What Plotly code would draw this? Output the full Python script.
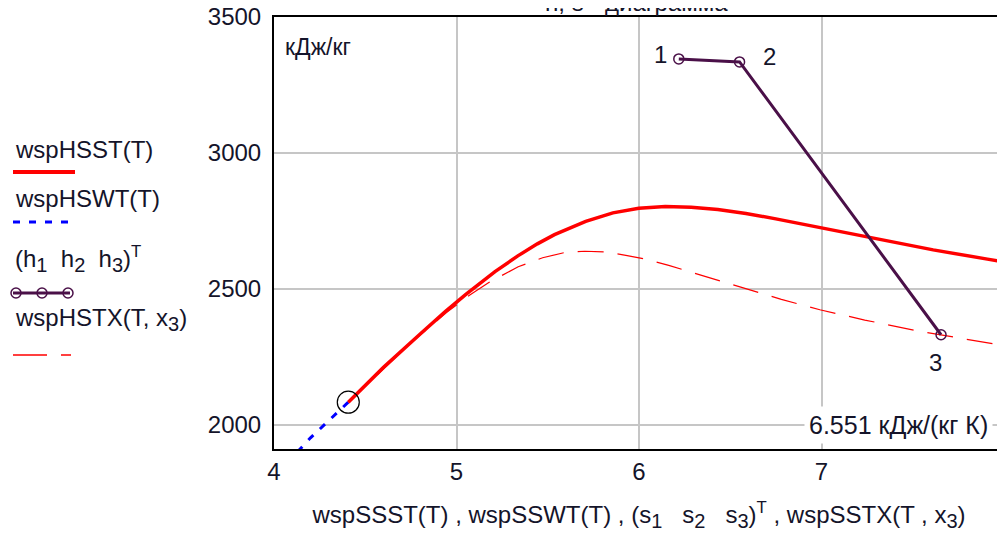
import plotly.graph_objects as go

# ---------------- data ----------------
# saturated steam line wspHSST(T): entropy s [kJ/(kg K)], enthalpy h [kJ/kg]
s_steam = [4.407, 4.60, 4.798, 4.94, 5.053, 5.211, 5.336, 5.443, 5.537, 5.708, 5.857,
           5.999, 6.144, 6.286, 6.432, 6.586, 6.750, 6.930, 7.130, 7.355, 7.612, 7.909, 8.076]
h_steam = [2084, 2212, 2333, 2418, 2481, 2564, 2622, 2666, 2700, 2749, 2780,
           2797, 2803, 2801, 2792, 2778, 2758, 2734, 2706, 2676, 2644, 2610, 2592]

# saturated water line wspHSWT(T)
s_water = [4.407, 4.30, 4.20, 4.114, 3.915]
h_water = [2084, 2016, 1953, 1891, 1762]

# constant dryness line wspHSTX(T, x3)
s_x3 = [4.407, 4.733, 4.945, 5.075, 5.177, 5.338, 5.472, 5.592, 5.703, 5.817, 5.928,
        6.043, 6.163, 6.294, 6.437, 6.597, 6.780, 6.991, 7.237, 7.527, 7.872, 8.069]
h_x3 = [2084, 2291, 2414, 2479, 2524, 2582, 2615, 2634, 2639, 2636, 2624,
        2609, 2587, 2560, 2530, 2497, 2462, 2424, 2386, 2346, 2305, 2284]

# process points 1-2-3
s_proc = [6.218, 6.551, 7.655]
h_proc = [3346, 3335, 2332]
proc_labels = ["1", "2", "3"]

# critical point
s_crit = [4.407]
h_crit = [2084]

x_ticks = [4, 5, 6, 7, 8]
y_ticks = [2000, 2500, 3000, 3500]
s2_label = "6.551 кДж/(кг К)"

# ---------------- layout helpers ----------------
# the page body adds an 8px offset; positions below are given in screen pixels
OFF = 8
W, H = 1005, 533
SL, ST, SR, SB = 274, 17, 1004, 449          # plot frame on screen
L, T = SL - OFF, ST - OFF
R, B = W - (SR - OFF), H - (SB - OFF)
PW, PH = SR - SL, SB - ST


def px(xs):
    return (xs - SL) / PW


def py(ys):
    return (SB - ys) / PH


FONT = "Liberation Sans, Arial, sans-serif"
TXT = "#14142a"
PURPLE = "#4a1048"
FS = 24


def big(d, size=20):
    return "<span style='font-size:%dpx'>%s</span>" % (size, d)


fig = go.Figure()

fig.add_trace(go.Scatter(x=s_water, y=h_water, mode="lines",
                         line=dict(color="#0000ff", width=3, dash="7px,9px"),
                         showlegend=False, hoverinfo="skip"))
fig.add_trace(go.Scatter(x=s_x3, y=h_x3, mode="lines",
                         line=dict(color="#ff0000", width=1.2, dash="26px,14px"),
                         showlegend=False, hoverinfo="skip"))
fig.add_trace(go.Scatter(x=s_steam, y=h_steam, mode="lines",
                         line=dict(color="#ff0000", width=3.5),
                         showlegend=False, hoverinfo="skip"))
fig.add_trace(go.Scatter(x=s_proc, y=h_proc, mode="lines+markers",
                         line=dict(color=PURPLE, width=3),
                         marker=dict(symbol="circle-open", size=10, color=PURPLE,
                                     line=dict(width=1.5, color=PURPLE)),
                         showlegend=False, hoverinfo="skip"))
fig.add_trace(go.Scatter(x=s_crit, y=h_crit, mode="markers",
                         marker=dict(symbol="circle-open", size=22, color="#000000",
                                     line=dict(width=1.2, color="#000000")),
                         showlegend=False, hoverinfo="skip"))

annotations = []
# point labels
offsets = [(-18, 4), (30, 5), (-6, -28)]
for s, h, lab, (dx, dy) in zip(s_proc, h_proc, proc_labels, offsets):
    annotations.append(dict(x=s, y=h, xref="x", yref="y", text=lab, showarrow=False,
                            xshift=dx, yshift=dy, font=dict(size=FS, color=TXT, family=FONT)))

# units label top-left
annotations.append(dict(x=px(283), y=py(47), xref="paper", yref="paper", text="кДж/кг",
                        xanchor="left", yanchor="middle", showarrow=False,
                        font=dict(size=23, color=TXT, family=FONT)))
# s2 value label
annotations.append(dict(x=px(993), y=2000, xref="paper", yref="y", text=s2_label,
                        xanchor="right", yanchor="middle", showarrow=False,
                        bgcolor="#ffffff", borderpad=4,
                        font=dict(size=25, color=TXT, family=FONT)))
# title (mostly cut off at the top)
annotations.append(dict(x=px(636), y=1, xref="paper", yref="paper", text="h, s - диаграмма",
                        xanchor="center", yanchor="bottom", yshift=-1, showarrow=False,
                        font=dict(size=FS, color=TXT, family=FONT)))

# legend texts
leg_font = dict(size=FS, color=TXT, family=FONT)
leg_items = [
    ("wspHSST(T)", 149),
    ("wspHSWT(T)", 198),
    ("(h<sub>%s</sub>&nbsp;&nbsp;h<sub>%s</sub>&nbsp;&nbsp;h<sub>%s</sub>)<sup>T</sup>"
     % (big("1"), big("2"), big("3")), 259),
    ("wspHSTX(T, x<sub>%s</sub>)" % big("3"), 319),
]
for text, yc in leg_items:
    annotations.append(dict(x=px(13), y=py(yc), xref="paper", yref="paper", text=text,
                            xanchor="left", yanchor="middle", showarrow=False, font=leg_font))

shapes = []
# legend samples
shapes.append(dict(type="line", xref="paper", yref="paper", x0=px(13), x1=px(75),
                   y0=py(172), y1=py(172), line=dict(color="#ff0000", width=4)))
shapes.append(dict(type="line", xref="paper", yref="paper", x0=px(13), x1=px(70),
                   y0=py(222), y1=py(222), line=dict(color="#0000ff", width=3, dash="7px,9px")))
shapes.append(dict(type="line", xref="paper", yref="paper", x0=px(13), x1=px(70),
                   y0=py(293), y1=py(293), line=dict(color=PURPLE, width=3)))
for cx in (16, 42, 68):
    shapes.append(dict(type="circle", xref="paper", yref="paper", xsizemode="pixel",
                       ysizemode="pixel", xanchor=px(cx), yanchor=py(293),
                       x0=-5, x1=5, y0=-5, y1=5, line=dict(color=PURPLE, width=1.5),
                       fillcolor="rgba(0,0,0,0)"))
shapes.append(dict(type="line", xref="paper", yref="paper", x0=px(13), x1=px(71),
                   y0=py(355), y1=py(355), line=dict(color="#ff0000", width=1.5, dash="34px,14px")))

xtitle = ("wspSSST(T) , wspSSWT(T) , (s<sub>%s</sub>&nbsp;&nbsp;&nbsp;s<sub>%s</sub>&nbsp;&nbsp;&nbsp;"
          "s<sub>%s</sub>)<sup>T</sup> , wspSSTX(T , x<sub>%s</sub>)"
          % (big("1"), big("2"), big("3"), big("3")))

fig.update_layout(
    width=W, height=H,
    margin=dict(l=L, r=R, t=T, b=B, pad=0, autoexpand=False),
    paper_bgcolor="#ffffff", plot_bgcolor="#ffffff",
    showlegend=False,
    annotations=annotations,
    shapes=shapes,
    font=dict(family=FONT, color=TXT, size=FS),
)
fig.update_xaxes(range=[4, 8], tickvals=x_ticks, ticktext=[str(v) for v in x_ticks],
                 showgrid=True, gridcolor="#c6c6c6", gridwidth=1.5, zeroline=False,
                 showline=True, linecolor="#000000", linewidth=2, mirror=True,
                 ticks="", tickfont=dict(size=FS, color=TXT, family=FONT),
                 ticklabelstandoff=0, ticklabeloverflow="allow", automargin=False,
                 title=dict(text=xtitle, font=dict(size=FS, color=TXT, family=FONT), standoff=22))
fig.update_yaxes(range=[1912, 3500], tickvals=y_ticks, ticktext=[str(v) for v in y_ticks],
                 showgrid=True, gridcolor="#c6c6c6", gridwidth=1.5, zeroline=False,
                 showline=True, linecolor="#000000", linewidth=2, mirror=True,
                 ticks="", tickfont=dict(size=FS, color=TXT, family=FONT),
                 ticklabelstandoff=6, ticklabeloverflow="allow", automargin=False)

fig.write_html("out.html")
